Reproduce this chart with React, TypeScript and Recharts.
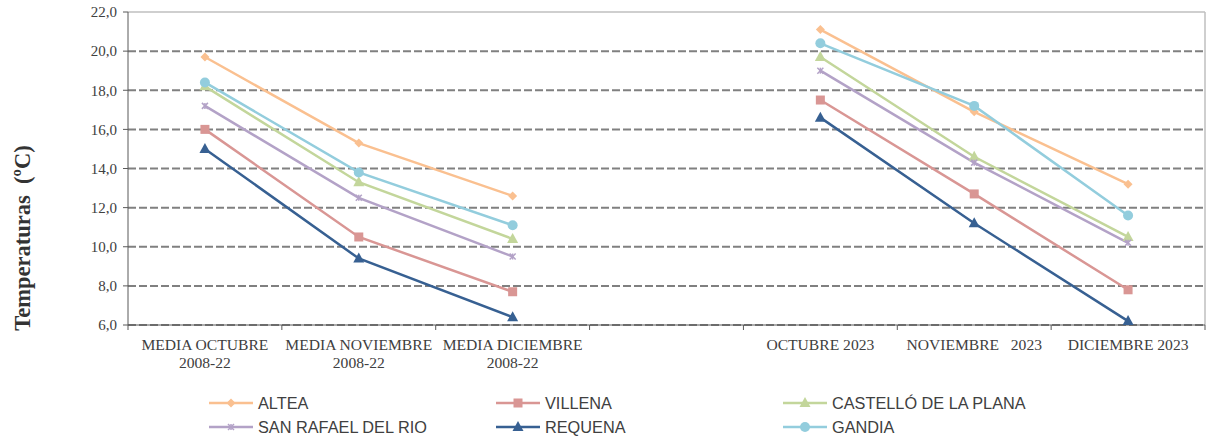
import React from 'react';
import { LineChart, Line, XAxis, YAxis, ReferenceLine, Legend } from 'recharts';

const categories = [
  'MEDIA OCTUBRE\n2008-22',
  'MEDIA NOVIEMBRE\n2008-22',
  'MEDIA DICIEMBRE\n2008-22',
  '',
  'OCTUBRE 2023',
  'NOVIEMBRE   2023',
  'DICIEMBRE 2023',
];
const altea = [19.7, 15.3, 12.6, null, 21.1, 16.9, 13.2];
const villena = [16.0, 10.5, 7.7, null, 17.5, 12.7, 7.8];
const castello = [18.2, 13.3, 10.4, null, 19.7, 14.6, 10.5];
const sanRafael = [17.2, 12.5, 9.5, null, 19.0, 14.3, 10.2];
const requena = [15.0, 9.4, 6.4, null, 16.6, 11.2, 6.2];
const gandia = [18.4, 13.8, 11.1, null, 20.4, 17.2, 11.6];
const yTicks = [6, 8, 10, 12, 14, 16, 18, 20, 22];

const series = [
  { key: 'altea', name: 'ALTEA', color: '#FAC090', shape: 'diamond', values: altea },
  { key: 'villena', name: 'VILLENA', color: '#D99694', shape: 'square', values: villena },
  { key: 'castello', name: 'CASTELLÓ DE LA PLANA', color: '#C3D69B', shape: 'triangle', values: castello },
  { key: 'sanRafael', name: 'SAN RAFAEL DEL RIO', color: '#B3A2C7', shape: 'star', values: sanRafael },
  { key: 'requena', name: 'REQUENA', color: '#376092', shape: 'triangle', values: requena },
  { key: 'gandia', name: 'GANDIA', color: '#93CDDD', shape: 'circle', values: gandia },
];

const data = categories.map((c, i) => {
  const row: any = { x: i + 0.5, label: c };
  series.forEach((s) => {
    row[s.key] = s.values[i];
  });
  return row;
});

const xTicks: number[] = [];
for (let i = 0; i <= categories.length * 2; i++) xTicks.push(i / 2);

function Marker({ cx, cy, shape, color }: any) {
  if (shape === 'diamond') {
    const r = 4.5;
    return <polygon points={`${cx},${cy - r} ${cx + r},${cy} ${cx},${cy + r} ${cx - r},${cy}`} fill={color} />;
  }
  if (shape === 'square') {
    return <rect x={cx - 4.5} y={cy - 4.5} width={9} height={9} fill={color} />;
  }
  if (shape === 'triangle') {
    return <polygon points={`${cx},${cy - 6} ${cx + 5.5},${cy + 4} ${cx - 5.5},${cy + 4}`} fill={color} />;
  }
  if (shape === 'circle') {
    return <circle cx={cx} cy={cy} r={5} fill={color} />;
  }
  // star
  const r = 3;
  return (
    <g stroke={color} strokeWidth={1.5}>
      <line x1={cx - r} y1={cy - r} x2={cx + r} y2={cy + r} />
      <line x1={cx - r} y1={cy + r} x2={cx + r} y2={cy - r} />
      <line x1={cx} y1={cy - r} x2={cx} y2={cy + r} />
    </g>
  );
}

function makeDot(shape: string, color: string) {
  return (props: any) => {
    const { cx, cy, index, value } = props;
    if (cx == null || cy == null || value == null || Number.isNaN(cy)) {
      return <g key={`d-${index}`} />;
    }
    return (
      <g key={`d-${index}`}>
        <Marker cx={cx} cy={cy} shape={shape} color={color} />
      </g>
    );
  };
}

const serif = '"Liberation Serif", "Times New Roman", serif';
const sans = '"Liberation Sans", Arial, sans-serif';

function XTick(props: any) {
  const { x, y, payload } = props;
  const v = payload.value;
  if (Number.isInteger(v)) {
    return <line x1={x} y1={y} x2={x} y2={y + 5} stroke="#595959" strokeWidth={1} />;
  }
  const idx = Math.floor(v);
  const label = categories[idx] || '';
  const lines = label.split('\n');
  return (
    <text
      x={x}
      textAnchor="middle"
      fontFamily={serif}
      fontSize={15.6}
      fill="#404040"
      style={{ whiteSpace: 'pre' }}
    >
      {lines.map((l, i) => (
        <tspan key={i} x={x} y={y + 25 + i * 18}>
          {l}
        </tspan>
      ))}
    </text>
  );
}

function renderLegend() {
  return (
    <div
      style={{
        display: 'grid',
        gridTemplateColumns: '287px 287px 287px',
        gridAutoRows: '24px',
        fontFamily: sans,
        fontSize: 16.3,
        color: '#404040',
      }}
    >
      {series.map((s) => (
        <div key={s.key} style={{ display: 'flex', alignItems: 'center', height: 24 }}>
          <svg width={44} height={14} style={{ display: 'block' }}>
            <line x1={0} y1={7} x2={44} y2={7} stroke={s.color} strokeWidth={2.5} />
            <Marker cx={22} cy={7} shape={s.shape} color={s.color} />
          </svg>
          <span style={{ marginLeft: 5, whiteSpace: 'pre', lineHeight: '24px' }}>{s.name}</span>
        </div>
      ))}
    </div>
  );
}

function YLabel() {
  return (
    <text
      x={22}
      y={238}
      transform="rotate(-90 22 238)"
      textAnchor="middle"
      dominantBaseline="central"
      fontFamily={serif}
      fontWeight="bold"
      fontSize={22.5}
      fill="#333333"
      style={{ whiteSpace: 'pre' }}
    >
      {'Temperaturas  (ºC)'}
    </text>
  );
}

export default function App() {
  return (
    <div style={{ position: 'absolute', left: 0, top: 0, width: 1206, height: 441, background: '#fff' }}>
      <LineChart width={1206} height={441} data={data} margin={{ top: 12, right: 1, left: 0, bottom: 16 }}>
        <XAxis
          type="number"
          dataKey="x"
          domain={[0, categories.length]}
          ticks={xTicks}
          interval={0}
          tickLine={false}
          tickSize={0}
          tickMargin={0}
          axisLine={{ stroke: '#595959', strokeWidth: 1 }}
          height={100}
          tick={<XTick />}
        />
        <YAxis
          type="number"
          domain={[6, 22]}
          ticks={yTicks}
          interval={0}
          width={128}
          tickSize={5}
          tickMargin={6}
          tickLine={{ stroke: '#595959' }}
          axisLine={{ stroke: '#595959', strokeWidth: 1 }}
          tick={{ fontFamily: serif, fontSize: 15, fill: '#404040' }}
          tickFormatter={(v: number) => v.toFixed(1).replace('.', ',')}
          label={{ content: () => <YLabel /> }}
        />
        <ReferenceLine y={22} stroke="#BFBFBF" strokeWidth={1.5} />
        <ReferenceLine x={categories.length} stroke="#BFBFBF" strokeWidth={1.5} />
        {yTicks
          .filter((v) => v < 22)
          .map((v) => (
            <ReferenceLine key={v} y={v} stroke="#808080" strokeWidth={2} strokeDasharray="8 3" />
          ))}
        {series.map((s) => (
          <Line
            key={s.key}
            type="linear"
            dataKey={s.key}
            name={s.name}
            stroke={s.color}
            strokeWidth={2.5}
            dot={makeDot(s.shape, s.color)}
            activeDot={false}
            connectNulls={false}
            isAnimationActive={false}
          />
        ))}
        <Legend
          layout="horizontal"
          verticalAlign="middle"
          align="center"
          wrapperStyle={{ left: 209, top: 391, width: 870, height: 48 }}
          content={renderLegend}
        />
      </LineChart>
    </div>
  );
}
